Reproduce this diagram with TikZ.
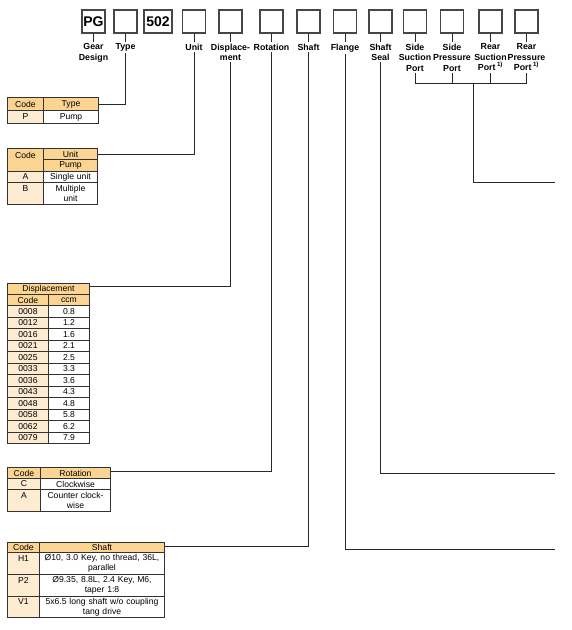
\documentclass[tikz,border=0pt]{standalone}
\usepackage{fontspec}
\setmainfont{Liberation Sans}
\definecolor{hdrc}{RGB}{252,212,145}
\definecolor{codc}{RGB}{253,235,210}
\definecolor{tblc}{RGB}{50,50,50}
\definecolor{boxc}{RGB}{70,70,70}
\definecolor{linec}{RGB}{40,40,40}
\begin{document}
\begin{tikzpicture}[x=1pt,y=-1pt,
  cbox/.style={draw=boxc, line width=1.3pt, minimum width=23pt, minimum height=23pt, inner sep=0pt, font=\bfseries\fontsize{14}{14}\selectfont},
  lbl/.style={anchor=north, align=center, inner sep=1.5pt, font=\bfseries\fontsize{8.8}{10.5}\selectfont},
  conn/.style={draw=linec, line width=1pt},
  cell/.style={draw=tblc, line width=1pt, anchor=north west, inner xsep=0pt, inner ysep=0pt, align=center, font=\fontsize{8.6}{10}\selectfont},
  hdr/.style={cell, fill=hdrc},
  codec/.style={cell, fill=codc},
  valc/.style={cell, fill=white}]
\useasboundingbox (0,0) rectangle (572,630);

% top code boxes
\node[cbox] (bPG) at (93.5,21.5) {PG};
\node[cbox] (bTy) at (125.5,21.5) {};
\node[cbox, minimum width=28pt] (b502) at (158,21.5) {502};
\node[cbox] (bUn) at (194,21.5) {};
\node[cbox] (bDi) at (230.5,21.5) {};
\node[cbox] (bRo) at (271.5,21.5) {};
\node[cbox] (bSh) at (308.5,21.5) {};
\node[cbox] (bFl) at (345,21.5) {};
\node[cbox] (bSS) at (380.5,21.5) {};
\node[cbox] (bSSP) at (415,21.5) {};
\node[cbox] (bSPP) at (452,21.5) {};
\node[cbox] (bRSP) at (490.5,21.5) {};
\node[cbox] (bRPP) at (526.5,21.5) {};

% labels
\node[lbl] (lPG) at (93.5,42) {Gear\\Design};
\node[lbl] (lTy) at (125.5,42) {Type};
\node[lbl] (lUn) at (194,42) {Unit};
\node[lbl] (lDi) at (230.5,42) {Displace-\\ment};
\node[lbl] (lRo) at (271.5,42) {Rotation};
\node[lbl] (lSh) at (308.5,42) {Shaft};
\node[lbl] (lFl) at (345,42) {Flange};
\node[lbl] (lSS) at (380.5,42) {Shaft\\Seal};
\node[lbl] (lSSP) at (415,42) {Side\\Suction\\Port};
\node[lbl] (lSPP) at (452,42) {Side\\Pressure\\Port};
\node[lbl] (lRSP) at (490.5,42) {Rear\\Suction\\Port\,\textsuperscript{1)}};
\node[lbl] (lRPP) at (526.5,42) {Rear\\Pressure\\Port\,\textsuperscript{1)}};

% ticks box -> label
\foreach \n in {PG,Ty,Un,Di,Ro,Sh,Fl,SS,SSP,SPP,RSP,RPP}
  \draw[conn] (b\n.south) -- (b\n.south |- l\n.north);

% Type table
\node[hdr, text width=36pt, minimum height=13pt] (tyCode) at (7,97) {Code};
\node[hdr, text width=55pt, minimum height=13pt] (tyHdr) at (43,97) {Type};
\node[codec, text width=36pt, minimum height=13pt] (tyP) at (7,110) {P};
\node[valc, text width=55pt, minimum height=13pt] (tyPv) at (43,110) {Pump};

% Unit table
\node[hdr, text width=36pt, minimum height=23pt] (unCode) at (7,148) {Code\\\mbox{}};
\node[hdr, text width=54pt, minimum height=11pt] (unHdr) at (43,148) {Unit};
\node[hdr, text width=54pt, minimum height=12pt] (unPump) at (43,159) {Pump};
\node[codec, text width=36pt, minimum height=11pt] (unA) at (7,171) {A};
\node[valc, text width=54pt, minimum height=11pt] (unAv) at (43,171) {Single unit};
\node[codec, text width=36pt, minimum height=22pt] (unB) at (7,182) {B\\\mbox{}};
\node[valc, text width=54pt, minimum height=22pt] (unBv) at (43,182) {Multiple\\unit};

% Displacement table
\node[hdr, text width=82pt, minimum height=11pt] (diHdr) at (7,283) {Displacement};
\node[hdr, text width=41pt, minimum height=11pt] (diCode) at (7,294) {Code};
\node[hdr, text width=41pt, minimum height=11pt] (diCcm) at (48,294) {ccm};
\foreach \c/\v [count=\i from 0] in {0008/0.8,0012/1.2,0016/1.6,0021/2.1,0025/2.5,0033/3.3,0036/3.6,0043/4.3,0048/4.8,0058/5.8,0062/6.2,0079/7.9}{
  \node[codec, text width=41pt, minimum height=11.5pt] (dc\i) at (7,{305+11.5*\i}) {\c};
  \node[valc, text width=41pt, minimum height=11.5pt] (dv\i) at (48,{305+11.5*\i}) {\v};
}

% Rotation table
\node[hdr, text width=33pt, minimum height=11pt] (roCode) at (7,467) {Code};
\node[hdr, text width=70pt, minimum height=11pt] (roHdr) at (40,467) {Rotation};
\node[codec, text width=33pt, minimum height=11pt] (roC) at (7,478) {C};
\node[valc, text width=70pt, minimum height=11pt] (roCv) at (40,478) {Clockwise};
\node[codec, text width=33pt, minimum height=22pt] (roA) at (7,489) {A\\\mbox{}};
\node[valc, text width=70pt, minimum height=22pt] (roAv) at (40,489) {Counter clock-\\wise};

% Shaft table
\node[hdr, text width=32pt, minimum height=10pt] (shCode) at (7,542) {Code};
\node[hdr, text width=125pt, minimum height=10pt] (shHdr) at (39,542) {Shaft};
\node[codec, text width=32pt, minimum height=22pt] (shH) at (7,552) {H1\\\mbox{}};
\node[valc, text width=125pt, minimum height=22pt] (shHv) at (39,552) {Ø10, 3.0 Key, no thread, 36L,\\parallel};
\node[codec, text width=32pt, minimum height=22pt] (shP) at (7,574) {P2\\\mbox{}};
\node[valc, text width=125pt, minimum height=22pt] (shPv) at (39,574) {Ø9.35, 8.8L, 2.4 Key, M6,\\taper 1:8};
\node[codec, text width=32pt, minimum height=21pt] (shV) at (7,596) {V1\\\mbox{}};
\node[valc, text width=125pt, minimum height=21pt] (shVv) at (39,596) {5x6.5 long shaft w/o coupling\\tang drive};

% connectors to tables
\draw[conn] (lTy.south) |- (tyHdr.east);
\draw[conn] (lUn.south) |- (unHdr.east);
\draw[conn] (lDi.south) |- ([yshift=3pt]diHdr.east);
\draw[conn] (lRo.south) |- ([yshift=2pt]roHdr.east);
\draw[conn] (lSh.south) |- ([yshift=1.5pt]shHdr.east);

% connectors leaving to the right
\coordinate (flEnd) at (555,549);
\coordinate (ssEnd) at (555,473);
\coordinate (ptEnd) at (555,182);
\coordinate (brk) at (473,83);
\draw[conn] (lFl.south) |- (flEnd);
\draw[conn] (lSS.south) |- (ssEnd);
\draw[conn] (lSSP.south) -- (lSSP.south |- brk) -- (lRPP.south |- brk) -- (lRPP.south);
\draw[conn] (lSPP.south) -- (lSPP.south |- brk);
\draw[conn] (lRSP.south) -- (lRSP.south |- brk);
\draw[conn] (brk) |- (ptEnd);
\end{tikzpicture}
\end{document}
